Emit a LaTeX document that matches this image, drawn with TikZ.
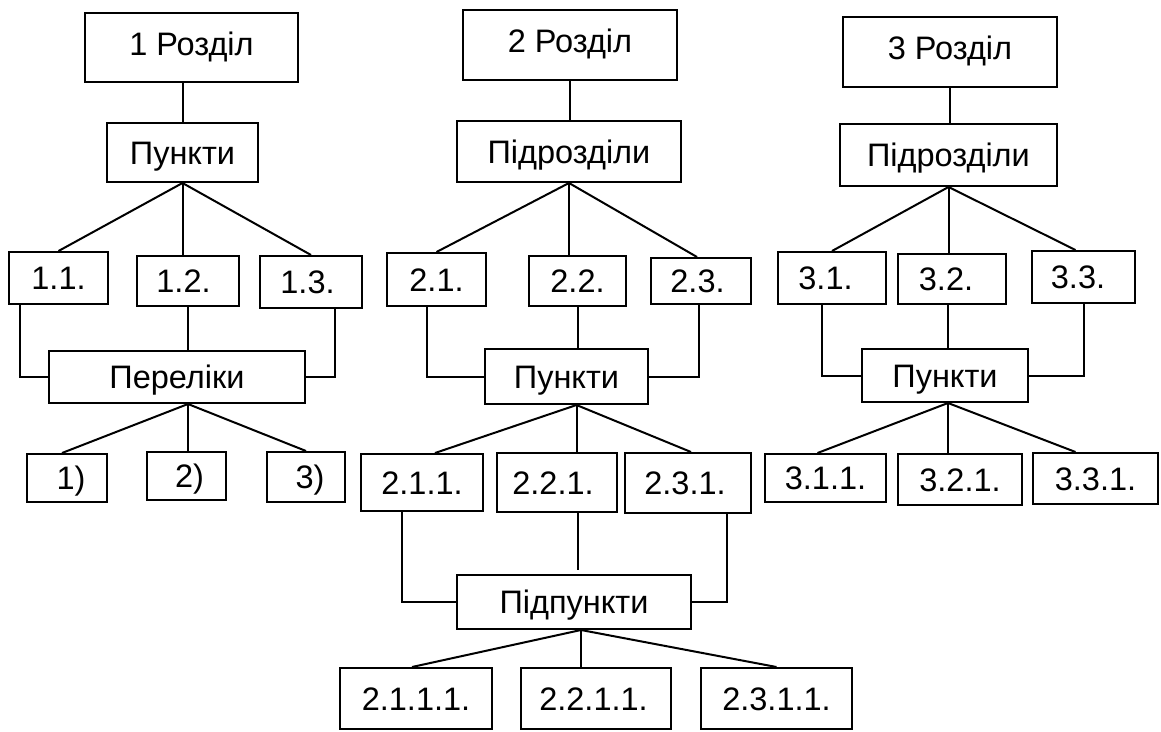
\documentclass[tikz,border=0pt]{standalone}
\usepackage{fontspec}
\setmainfont{Liberation Sans}
\begin{document}
\begin{tikzpicture}[x=1pt,y=-1pt,
  bx/.style={draw, line width=2pt, inner sep=0pt, text height=23pt, text depth=0pt,
    font=\fontsize{32.5}{38}\selectfont},
  hi/.style={text depth=8pt},
  tx/.style={execute at begin node={\hspace*{#1}}},
  ln/.style={line width=2pt}]
\useasboundingbox (0,0) rectangle (1161,731);
% --- Section 1
\node[bx,hi,minimum width=213pt,minimum height=69pt] (r1) at (191.5,47.5) {1 Розділ};
\node[bx,minimum width=151pt,minimum height=59pt] (p1) at (182.5,152.5) {Пункти};
\node[bx,minimum width=99pt,minimum height=52pt] (a11) at (58.5,278) {1.1.};
\node[bx,tx=-9pt,minimum width=102pt,minimum height=50pt] (a12) at (188,281) {1.2.};
\node[bx,tx=-7pt,minimum width=102pt,minimum height=52pt] (a13) at (311,282) {1.3.};
\node[bx,minimum width=256pt,minimum height=52pt] (per) at (177,377) {Переліки};
\node[bx,tx=8pt,minimum width=80pt,minimum height=48pt] (b1) at (67,478) {1)};
\node[bx,tx=6pt,minimum width=79pt,minimum height=48pt] (b2) at (186.5,476) {2)};
\node[bx,tx=8pt,minimum width=78pt,minimum height=50pt] (b3) at (306,477) {3)};
% --- Section 2
\node[bx,hi,minimum width=214pt,minimum height=70pt] (r2) at (570,45) {2 Розділ};
\node[bx,minimum width=224pt,minimum height=61pt] (s2) at (569,151.5) {Підрозділи};
\node[bx,minimum width=99pt,minimum height=53pt] (c21) at (436.5,279.5) {2.1.};
\node[bx,minimum width=97pt,minimum height=50pt] (c22) at (577.5,281) {2.2.};
\node[bx,tx=-7pt,minimum width=100pt,minimum height=46pt] (c23) at (701,281) {2.3.};
\node[bx,minimum width=163pt,minimum height=55pt] (pk2) at (566.5,376.5) {Пункти};
\node[bx,minimum width=122pt,minimum height=57pt] (d211) at (422,482.5) {2.1.1.};
\node[bx,tx=-8pt,minimum width=120pt,minimum height=59pt] (d221) at (557,482.5) {2.2.1.};
\node[bx,tx=-6pt,minimum width=126pt,minimum height=60pt] (d231) at (688,483) {2.3.1.};
\node[bx,minimum width=234pt,minimum height=54pt] (pp) at (574,602) {Підпункти};
\node[bx,minimum width=152pt,minimum height=61pt] (e1) at (416,698.5) {2.1.1.1.};
\node[bx,tx=-5pt,minimum width=150pt,minimum height=61pt] (e2) at (596,698.5) {2.2.1.1.};
\node[bx,minimum width=151pt,minimum height=61pt] (e3) at (776.5,698.5) {2.3.1.1.};
% --- Section 3
\node[bx,hi,minimum width=214pt,minimum height=70pt] (r3) at (950,52) {3 Розділ};
\node[bx,minimum width=217pt,minimum height=62pt] (s3) at (948.5,155) {Підрозділи};
\node[bx,tx=-13pt,minimum width=108pt,minimum height=52pt] (f31) at (832,278) {3.1.};
\node[bx,tx=-12pt,minimum width=108pt,minimum height=50pt] (f32) at (952,279) {3.2.};
\node[bx,tx=-11pt,minimum width=103pt,minimum height=52pt] (f33) at (1083.5,277) {3.3.};
\node[bx,minimum width=166pt,minimum height=53pt] (pk3) at (945,375.5) {Пункти};
\node[bx,minimum width=121pt,minimum height=48pt] (g311) at (825.5,478) {3.1.1.};
\node[bx,minimum width=124pt,minimum height=51pt] (g321) at (960,479.5) {3.2.1.};
\node[bx,minimum width=125pt,minimum height=51pt] (g331) at (1095.5,478.5) {3.3.1.};
% --- Connectors section 1
\draw[ln] (p1.north) -- (p1.north |- r1.south);
\draw[ln] (p1.south) -- (a11.north);
\draw[ln] (p1.south) -- (p1.south |- a12.north);
\draw[ln] (p1.south) -- (a13.north);
\draw[ln] ([xshift=12pt]a11.south west) |- (per.west);
\draw[ln] (a12.south) -- (a12.south |- per.north);
\draw[ln] ([xshift=-28pt]a13.south east) |- (per.east);
\coordinate (perb) at ([xshift=11pt]per.south);
\draw[ln] (perb) -- ([xshift=-5pt]b1.north);
\draw[ln] (perb) -- (perb |- b2.north);
\draw[ln] (perb) -- (b3.north);
% --- Connectors section 2
\draw[ln] (r2.south) -- (r2.south |- s2.north);
\draw[ln] (s2.south) -- (c21.north);
\draw[ln] (s2.south) -- (s2.south |- c22.north);
\draw[ln] (s2.south) -- ([xshift=-4pt]c23.north);
\draw[ln] ([xshift=41pt]c21.south west) |- (pk2.west);
\draw[ln] (c22.south) -- (c22.south |- pk2.north);
\draw[ln] ([xshift=-2pt]c23.south) |- (pk2.east);
\coordinate (pk2b) at ([xshift=10pt]pk2.south);
\draw[ln] (pk2b) -- ([xshift=13pt]d211.north);
\draw[ln] (pk2b) -- (pk2b |- d221.north);
\draw[ln] (pk2b) -- ([xshift=3pt]d231.north);
\draw[ln] ([xshift=42pt]d211.south west) |- (pp.west);
\draw[ln,shorten >=4pt] ([xshift=21pt]d221.south) -- ([xshift=21pt]d221.south |- pp.north);
\draw[ln] ([xshift=-25pt]d231.south east) |- (pp.east);
\coordinate (ppb) at ([xshift=7pt]pp.south);
\draw[ln] (ppb) -- ([xshift=-4pt]e1.north);
\draw[ln] (ppb) -- (ppb |- e2.north);
\draw[ln] (ppb) -- (e3.north);
% --- Connectors section 3
\draw[ln] (r3.south) -- (r3.south |- s3.north);
\draw[ln] (s3.south) -- (f31.north);
\draw[ln] (s3.south) -- (s3.south |- f32.north);
\draw[ln] (s3.south) -- ([xshift=-8pt]f33.north);
\draw[ln] ([xshift=45pt]f31.south west) |- (pk3.west);
\draw[ln] ([xshift=3pt]pk3.north) -- ([xshift=3pt]pk3.north |- f32.south);
\draw[ln] (f33.south) |- (pk3.east);
\coordinate (pk3b) at ([xshift=3pt]pk3.south);
\draw[ln] (pk3b) -- ([xshift=-8pt]g311.north);
\draw[ln] (pk3b) -- (pk3b |- g321.north);
\draw[ln] (pk3b) -- ([xshift=-20pt]g331.north);
\end{tikzpicture}
\end{document}
